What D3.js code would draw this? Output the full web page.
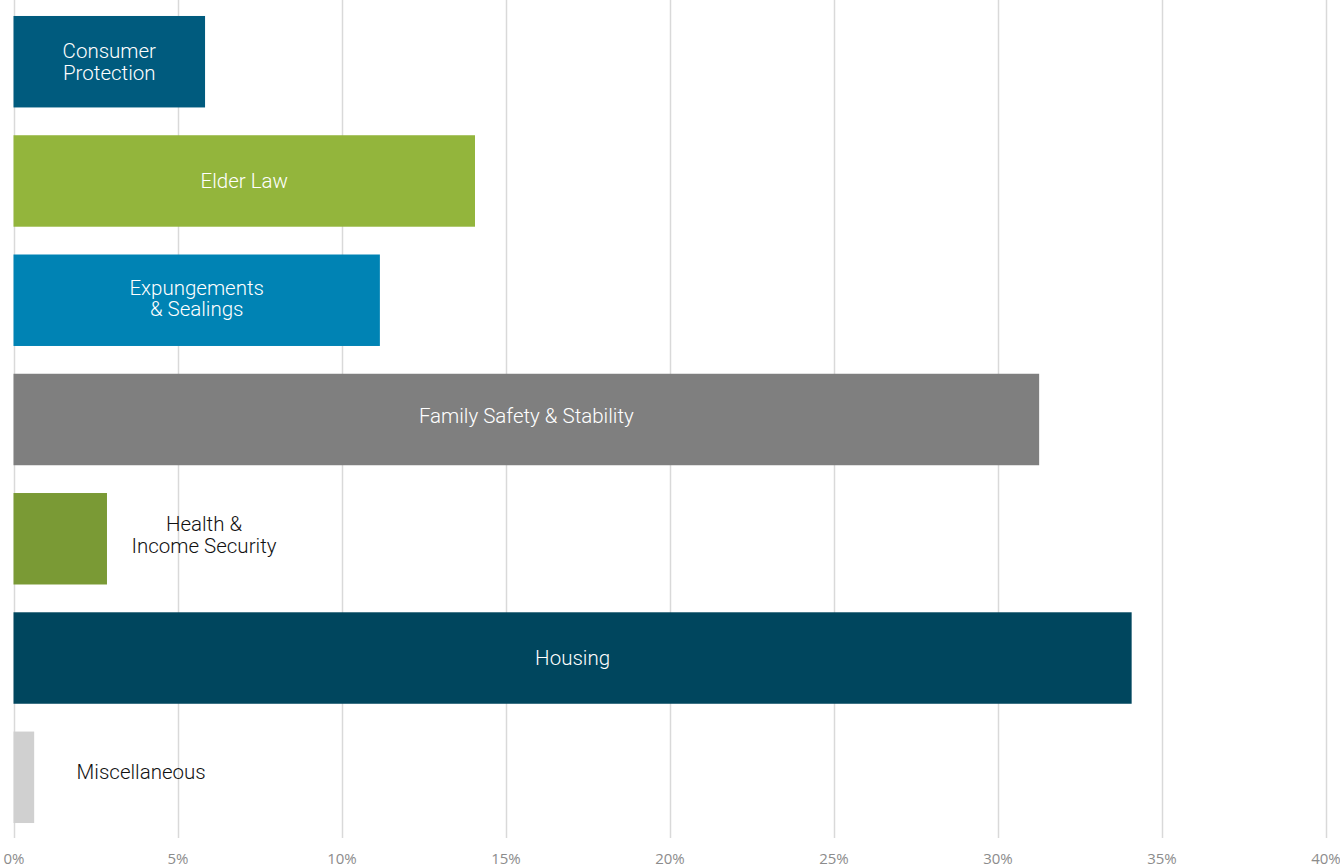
<!DOCTYPE html>
<html>
<head>
<meta charset="utf-8">
<script src="https://cdn.jsdelivr.net/npm/d3@7"></script>
<style>
  html, body { margin: 0; padding: 0; background: #fff; }
  svg { display: block; }
</style>
</head>
<body>
<svg id="chart" width="1340" height="867"></svg>
<script>
// ---- data ----
const categories = ["Consumer Protection", "Elder Law", "Expungements & Sealings", "Family Safety & Stability", "Health & Income Security", "Housing", "Miscellaneous"];
const labelLines = [["Consumer", "Protection"], ["Elder Law"], ["Expungements", "& Sealings"], ["Family Safety & Stability"], ["Health &", "Income Security"], ["Housing"], ["Miscellaneous"]];
const values = [5.84, 14.07, 11.17, 31.27, 2.85, 34.09, 0.63];
const colors = ["#005b7e", "#93b53c", "#0083b4", "#7f7f7f", "#7a9a35", "#00465e", "#d0d0d0"];
const tickValues = [0, 5, 10, 15, 20, 25, 30, 35, 40];

// ---- layout ----
const svg = d3.select("#chart");
const x = d3.scaleLinear().domain([0, 40]).range([13.5, 1325.5]);
const y = d3.scaleBand().domain(categories).range([0, 839]).paddingInner(0.233).paddingOuter(0.134);

// gridlines
svg.append("g")
  .selectAll("line")
  .data(tickValues)
  .join("line")
  .attr("x1", d => Math.round(x(d)) + 0.5)
  .attr("x2", d => Math.round(x(d)) + 0.5)
  .attr("y1", 0)
  .attr("y2", 838)
  .attr("stroke", "#d9d9d9")
  .attr("stroke-width", 1.5);

// axis
const axis = d3.axisBottom(x).tickValues(tickValues).tickFormat(d => d + "%").tickSize(0).tickPadding(0);
const ax = svg.append("g").attr("transform", "translate(0,853)").call(axis);
ax.select(".domain").remove();
ax.selectAll("text")
  .attr("fill", "#8c8c8c")
  .attr("font-family", "'Open Sans', sans-serif")
  .attr("font-size", "15px");

// bars
const rows = categories.map((c, i) => ({ c, v: values[i], color: colors[i], lines: labelLines[i] }));
svg.append("g")
  .selectAll("rect")
  .data(rows)
  .join("rect")
  .attr("x", x(0))
  .attr("y", d => y(d.c))
  .attr("width", d => x(d.v) - x(0))
  .attr("height", y.bandwidth())
  .attr("fill", d => d.color);

// labels
const outside = { "Health & Income Security": 97, "Miscellaneous": 107 };
const nudge = { "Family Safety & Stability": -4, "Health & Income Security": -4, "Miscellaneous": -5, "Expungements & Sealings": -2 };
const lineH = 21.5;
const lbl = svg.append("g")
  .selectAll("text")
  .data(rows)
  .join("text")
  .attr("text-anchor", "middle")
  .attr("font-family", "Roboto, sans-serif")
  .attr("font-weight", 300)
  .attr("font-size", "20.5px")
  .attr("fill", d => outside[d.c] !== undefined ? "#111" : "#fff")
  .attr("transform", d => {
    const cx = outside[d.c] !== undefined ? x(d.v) + outside[d.c] : (x(0) + x(d.v)) / 2;
    const cy = y(d.c) + y.bandwidth() / 2 + (nudge[d.c] || 0);
    return `translate(${cx},${cy})`;
  });
lbl.selectAll("tspan")
  .data(d => d.lines.map((t, i) => ({ t, i, n: d.lines.length })))
  .join("tspan")
  .attr("x", 0)
  .attr("y", d => (d.i - (d.n - 1) / 2) * lineH)
  .attr("dy", "0.35em")
  .text(d => d.t);
</script>
</body>
</html>
